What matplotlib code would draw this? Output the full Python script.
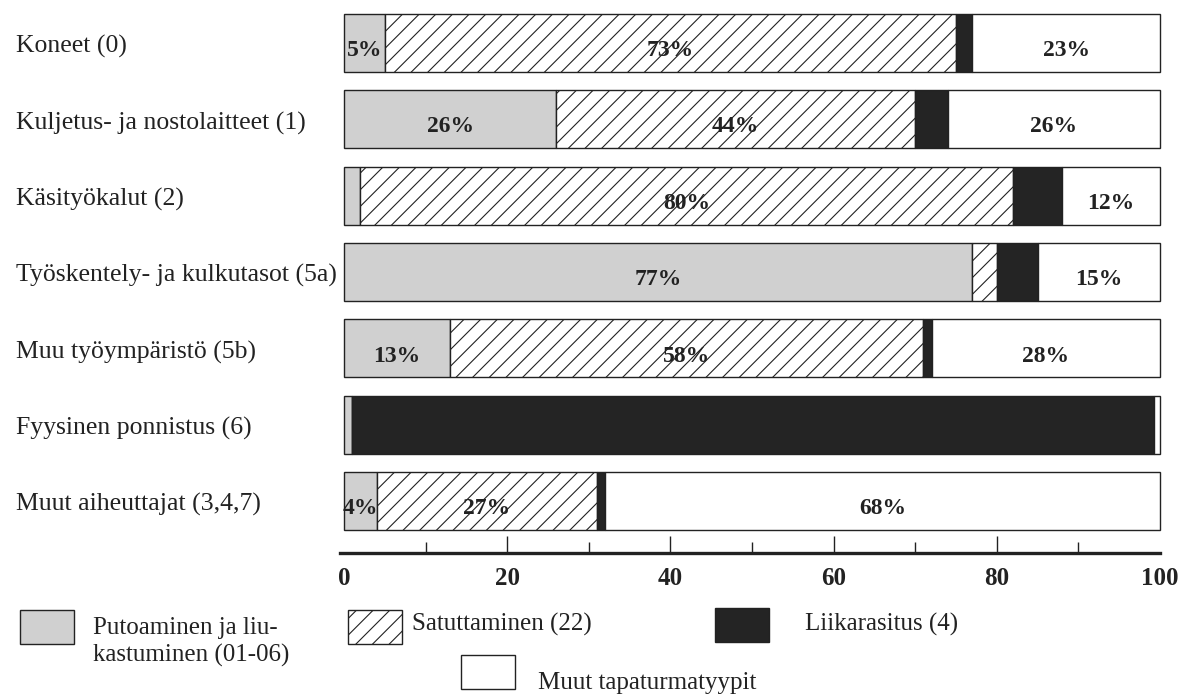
import matplotlib.pyplot as plt
from matplotlib.patches import Rectangle

plt.rcParams['font.family'] = ['Liberation Serif', 'DejaVu Serif']
plt.rcParams['hatch.linewidth'] = 0.8

# categories, top to bottom
categories = ['Koneet (0)', 'Kuljetus- ja nostolaitteet (1)', 'Käsityökalut (2)',
              'Työskentely- ja kulkutasot (5a)', 'Muu työympäristö (5b)',
              'Fyysinen ponnistus (6)', 'Muut aiheuttajat (3,4,7)']

# shares (%) per accident type
putoaminen = [5, 26, 2, 77, 13, 1, 4]
satuttaminen = [70, 44, 80, 3, 58, 0, 27]
liikarasitus = [2, 4, 6, 5, 1, 98.3, 1]
muut = [23, 26, 12, 15, 28, 0.7, 68]

# printed percentages inside the segments
lbl_putoaminen = ['5%', '26%', '', '77%', '13%', '', '4%']
lbl_satuttaminen = ['73%', '44%', '80%', '', '58%', '', '27%']
lbl_muut = ['23%', '26%', '12%', '15%', '28%', '', '68%']

series = [
    ('Putoaminen ja liu-\nkastuminen (01-06)', putoaminen, lbl_putoaminen, '#d0d0d0', None),
    ('Satuttaminen (22)', satuttaminen, lbl_satuttaminen, 'white', '//'),
    ('Liikarasitus (4)', liikarasitus, None, '#242424', None),
    ('Muut tapaturmatyypit', muut, lbl_muut, 'white', None),
]

W, H = 1179, 695
fig = plt.figure(figsize=(W / 100, H / 100), dpi=100)
ax = fig.add_axes([340 / W, 1 - 553 / H, 820 / W, 553 / H])

y = list(range(len(categories)))
left = [0] * len(categories)
for name, vals, lbls, color, hatch in series:
    ax.barh(y, vals, left=left, height=0.76, color=color, hatch=hatch,
            edgecolor='#222222', linewidth=1.0, clip_on=False)
    if lbls:
        for i, (v, l0, t) in enumerate(zip(vals, left, lbls)):
            if t:
                ax.text(l0 + v / 2, i + 0.1, t, ha='center', va='center',
                        fontsize=17, fontweight='bold', color='#222222')
    left = [a + b for a, b in zip(left, vals)]

ax.set_xlim(-0.5, 100)
ax.set_ylim(6.68, -0.563)

for s in ['top', 'right', 'left']:
    ax.spines[s].set_visible(False)
ax.spines['bottom'].set_linewidth(2.4)
ax.spines['bottom'].set_color('#222222')
ax.set_yticks([])
ax.set_xticks(range(0, 101, 20))
ax.set_xticks(range(10, 100, 20), minor=True)
ax.tick_params(axis='x', which='major', direction='in', length=12, width=1,
               labelsize=18, pad=10, colors='#222222')
ax.tick_params(axis='x', which='minor', direction='in', length=8, width=1,
               colors='#222222')
for lab in ax.get_xticklabels():
    lab.set_fontweight('bold')
ticks = ax.xaxis.get_major_ticks()
ticks[0].tick1line.set_visible(False)
ticks[-1].tick1line.set_visible(False)

# category labels on the left
for i, c in enumerate(categories):
    ax.text((16 - 340) / 820, i + 0.05, c, transform=ax.get_yaxis_transform(),
            ha='left', va='center', fontsize=18.5, color='#222222')

# legend drawn by hand below the axis
def px_rect(x, y0, w, h, color, hatch=None):
    fig.patches.append(Rectangle((x / W, 1 - (y0 + h) / H), w / W, h / H,
                                 transform=fig.transFigure, facecolor=color,
                                 hatch=hatch, edgecolor='#222222', linewidth=1.0))

legend_pos = [(20, 610, 93, 642), (348, 610, 412, 624), (715, 608, 805, 624),
              (461, 655, 538, 683)]
for (name, vals, lbls, color, hatch), (px, py, tx, ty) in zip(series, legend_pos):
    px_rect(px, py, 54, 34, color, hatch)
    fig.text(tx / W, 1 - ty / H, name, ha='left', va='center',
             fontsize=18, color='#222222', linespacing=1.3)

fig.savefig('out.png', dpi=100)
